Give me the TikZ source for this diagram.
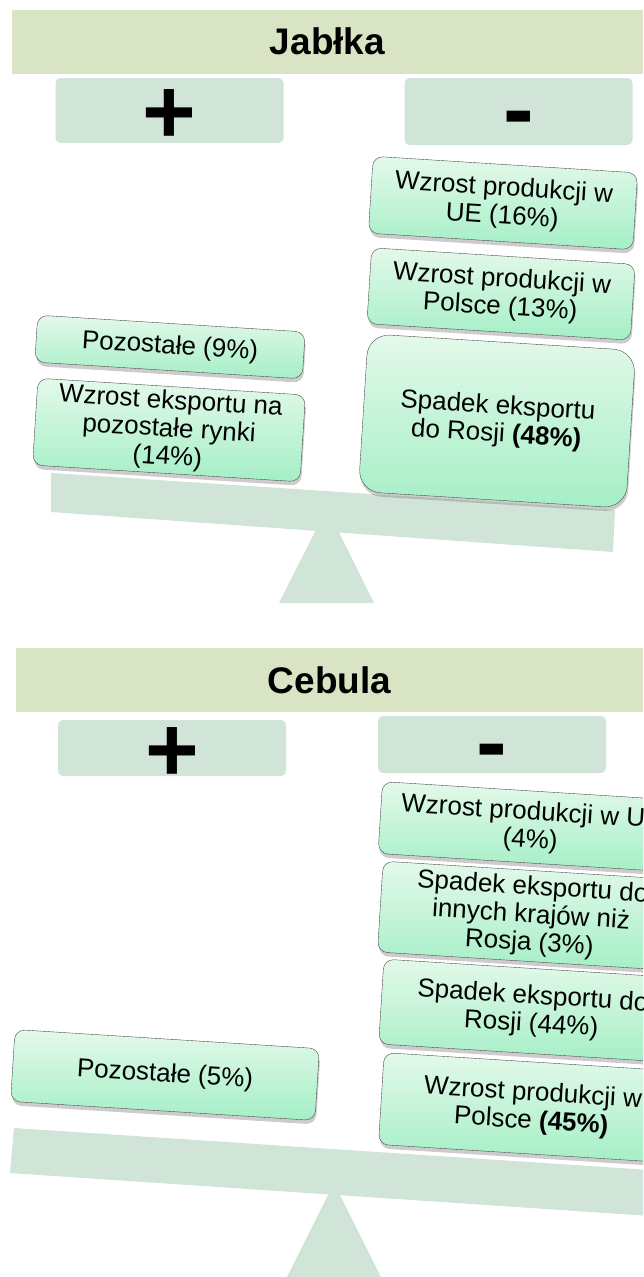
\documentclass[tikz,border=0pt]{standalone}
\usepackage{fontspec}
\setmainfont{Liberation Sans}
\usetikzlibrary{shadows}

\definecolor{titlegreen}{HTML}{D8E4C4}
\definecolor{signgreen}{HTML}{D0E4D8}
\definecolor{boxtop}{HTML}{E4F9EA}
\definecolor{boxbot}{HTML}{A4EFC6}

\tikzset{
  titlebar/.style={fill=titlegreen, minimum height=64pt, font=\fontsize{37}{40}\selectfont\bfseries},
  signbox/.style={fill=signgreen, rounded corners=5pt, minimum width=228pt},
  signtext/.style={anchor=base, inner sep=0pt, font=\fontsize{92}{94}\selectfont\bfseries},
  factor/.style={draw=black!70, thin, rounded corners=10pt, top color=boxtop, bottom color=boxbot,
    drop shadow={opacity=0.4, shadow xshift=1pt, shadow yshift=-4pt},
    rotate=-3.6, align=center, inner sep=2pt, font=\fontsize{26}{28}\selectfont},
  balance/.style={fill=signgreen, draw=none}
}

\begin{document}
\begin{tikzpicture}[x=1pt, y=-1pt, thick]
    \useasboundingbox (0,0) rectangle (643,1277);
    \clip (0,0) rectangle (643,1277);

    % Jablka
    \node[titlebar, minimum width=631pt] (jtitle) at (327.5,41.5) {Jabłka};
    \node[signbox, minimum height=65pt] (jplus) at (169.5,110.5) {};
    \node[signbox, minimum height=67pt] (jminus) at (518.5,111.5) {};
    \node[signtext] (jplussign) at ([yshift=-33pt]jplus.center) {+};
    \node[signtext] (jminussign) at ([yshift=-29pt]jminus.center) {-};
    \fill[balance] (327,508) -- (279,603) -- (374,603) -- cycle;
    \fill[balance] (51,473) -- (615,510) -- (613,552) -- (51,512) -- cycle;

    \node[factor, minimum width=265pt, minimum height=77pt] (jue) at (503,203) {Wzrost produkcji w\\UE (16\%)};
    \node[factor, minimum width=264pt, minimum height=76pt] (jpl) at (501,294) {Wzrost produkcji w\\Polsce (13\%)};
    \node[factor, minimum width=268pt, minimum height=158pt, rounded corners=22pt] (jrosja) at (497,421) {Spadek eksportu\\do Rosji \textbf{(48\%)}};
    \node[factor, minimum width=268pt, minimum height=47pt] (jrest) at (170,347) {Pozostałe (9\%)};
    \node[factor, minimum width=268pt, minimum height=87pt] (jexp) at (169,430) {Wzrost eksportu na\\pozostałe rynki\\(14\%)};

    % Cebula
    \node[titlebar, minimum width=627pt] (ctitle) at (329.5,680) {Cebula};
    \node[signbox, minimum height=56pt] (cplus) at (172,748) {};
    \node[signbox, minimum height=57pt] (cminus) at (492,744.5) {};
    \node[signtext] (cplussign) at ([yshift=-33pt]cplus.center) {+};
    \node[signtext] (cminussign) at ([yshift=-29pt]cminus.center) {-};
    \fill[balance] (334,1183) -- (287,1277) -- (381,1277) -- cycle;
    \fill[balance] (14,1128) -- (680,1172) -- (680,1218) -- (10,1173) -- cycle;

    \node[factor, minimum width=302pt, minimum height=72pt] (cue) at (531,827) {Wzrost produkcji w UE\\(4\%)};
    \node[factor, minimum width=302pt, minimum height=91pt] (cinne) at (531,916) {Spadek eksportu do\\innych krajów niż\\Rosja (3\%)};
    \node[factor, minimum width=302pt, minimum height=85pt] (crosja) at (532,1011) {Spadek eksportu do\\Rosji (44\%)};
    \node[factor, minimum width=302pt, minimum height=92pt] (cpl) at (532,1108) {Wzrost produkcji w\\Polsce \textbf{(45\%)}};
    \node[factor, minimum width=305pt, minimum height=72pt] (crest) at (165,1075) {Pozostałe (5\%)};
\end{tikzpicture}
\end{document}
